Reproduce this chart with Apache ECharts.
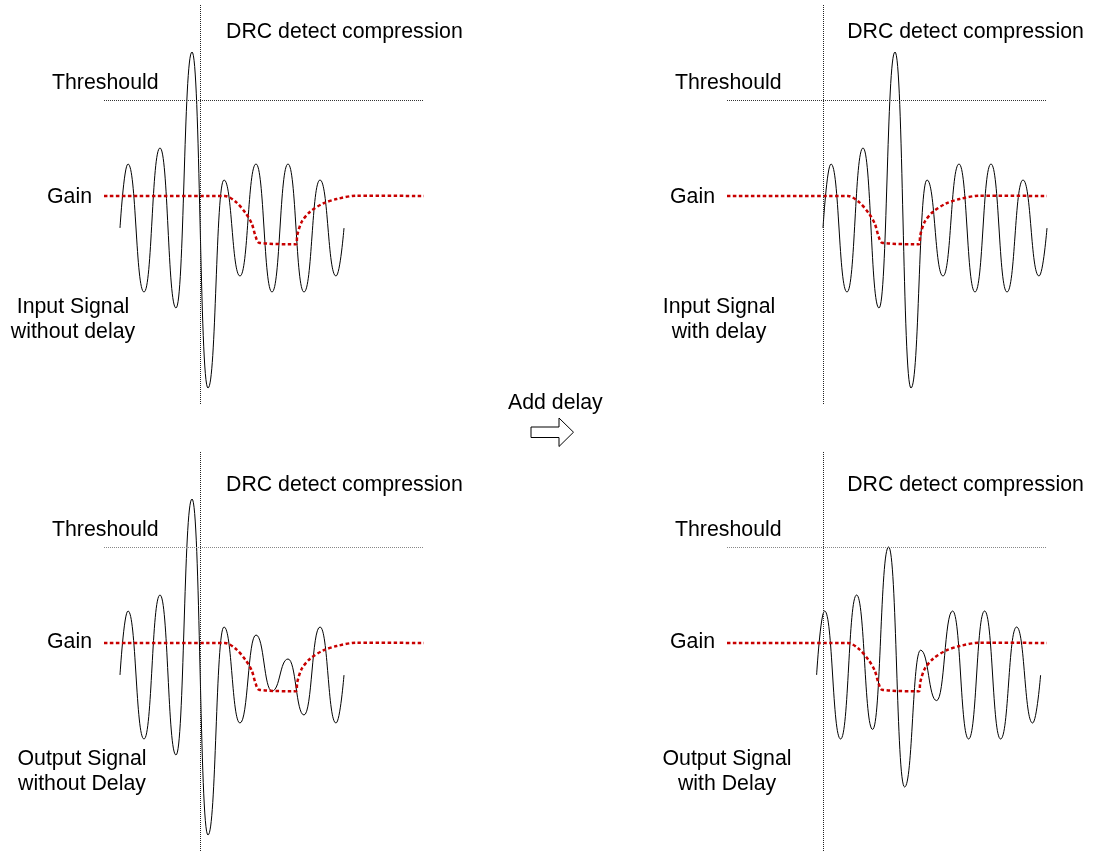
<!DOCTYPE html>
<html>
<head>
<meta charset="utf-8">
<script src="https://cdn.jsdelivr.net/npm/echarts@6/dist/echarts.min.js"></script>
<style>
  html, body { margin: 0; padding: 0; background: #fff; }
  #chart { width: 1093px; height: 851px; }
</style>
</head>
<body>
<div id="chart"></div>
<script>
// time axis: 1 unit = half a signal period, level axis: arbitrary amplitude units
const timeNoDelay = [1, 1.5, 2.5, 3.5, 4.5, 5.5, 6.5, 7.5, 8.5, 9.5, 10.5, 11.5, 12.5, 13.5, 14.5, 15];
const timeInDelay = [6, 6.5, 7.5, 8.5, 9.5, 10.5, 11.5, 12.5, 13.5, 14.5, 15.5, 16.5, 17.5, 18.5, 19.5, 20];
const timeOutDelay = [5.6, 6.1, 7.1, 8.1, 9.1, 10.1, 11.1, 12.1, 13.1, 14.1, 15.1, 16.1, 17.1, 18.1, 19.1, 19.6];

const inputLevels = [0, 4, -4, 5, -5, 11, -10, 3, -3, 4, -4, 4, -4, 3, -3, 0];
const outNoDelayLevels = [0, 4, -4, 5, -5, 11, -10, 3, -3, 2.5, -1, 1, -2.5, 3, -3, 0];
const outDelayLevels = [0, 4, -4, 5, -3.4, 8, -7, 1.55, -1.6, 4, -4, 4, -4, 3, -3, 0];

const gainTime = [0, 7.56, 8.23, 8.86, 9.23, 9.48, 9.69, 12.0, 12.08, 12.36, 12.88, 13.71, 14.54, 15.79, 20];
const gainLevels = [2, 2, 1.64, 0.92, 0.29, -0.54, -0.92, -1.02, -0.44, 0.39, 1.02, 1.54, 1.81, 2.02, 2];

const thresholdLevel = 8;
const detectTime = 6;

const FONT = '21.3px "Liberation Sans", Arial, sans-serif';

const panels = [
    { left: 104, top: 4, t: timeNoDelay, v: inputLevels, th: '#333', label: 'Input Signal\nwithout delay', labelX: 73 },
    { left: 727, top: 4, t: timeInDelay, v: inputLevels, th: '#333', label: 'Input Signal\nwith delay', labelX: 719 },
    { left: 104, top: 451, t: timeNoDelay, v: outNoDelayLevels, th: '#888', label: 'Output Signal\nwithout Delay', labelX: 82 },
    { left: 727, top: 451, t: timeOutDelay, v: outDelayLevels, th: '#888', label: 'Output Signal\nwith Delay', labelX: 727 }
]

const zip = (a, b) => a.map((x, i) => [x, b[i]])

const grid = [], xAxis = [], yAxis = [], series = [], graphic = []
panels.forEach((p, i) => {
    grid.push({ left: p.left, top: p.top, width: 320, height: 400 })
    xAxis.push({ type: 'value', gridIndex: i, min: 0, max: 20, show: false })
    yAxis.push({ type: 'value', gridIndex: i, min: -11, max: 14, show: false })
    series.push({
        type: 'line',
        xAxisIndex: i,
        yAxisIndex: i,
        data: zip(p.t, p.v),
        smooth: 0.5,
        smoothMonotone: 'x',
        symbol: 'none',
        lineStyle: { color: '#000', width: 1 },
        markLine: {
            silent: true,
            symbol: 'none',
            label: { show: false },
            data: [
                { xAxis: detectTime, lineStyle: { color: '#222', width: 1, type: [1, 1] } },
                { yAxis: thresholdLevel, lineStyle: { color: p.th, width: 1, type: [1, 1] } }
            ]
        },
        z: 2
    })
    series.push({
        type: 'line',
        xAxisIndex: i,
        yAxisIndex: i,
        data: zip(gainTime, gainLevels),
        smooth: 0.3,
        symbol: 'none',
        lineStyle: { color: '#c80000', width: 2.5, type: [3.5, 2.5] },
        z: 3
    })
    const dy = p.top - 4
    const dxL = p.left - 104
    graphic.push(
        { type: 'text', x: 226 + dxL * 0.997, y: 32 + (i > 1 ? 453 : 0), style: { text: 'DRC detect compression', font: FONT, fill: '#000', align: 'left', verticalAlign: 'middle' } },
        { type: 'text', x: 52 + dxL, y: 83.5 + dy, style: { text: 'Threshould', font: FONT, fill: '#000', align: 'left', verticalAlign: 'middle' } },
        { type: 'text', x: 47 + dxL, y: 197 + dy - (i > 1 ? 2 : 0), style: { text: 'Gain', font: FONT, fill: '#000', align: 'left', verticalAlign: 'middle' } },
        { type: 'text', x: p.labelX, y: (i > 1 ? 771.5 : 319.5), style: { text: p.label, font: FONT, lineHeight: 25, fill: '#000', align: 'center', verticalAlign: 'middle' } }
    )
})

graphic.push(
    { type: 'text', x: 508, y: 403.5, style: { text: 'Add delay', font: FONT, fill: '#000', align: 'left', verticalAlign: 'middle' } },
    {
        type: 'polygon',
        shape: { points: [[531, 427], [559, 427], [559, 418], [573.5, 432.2], [559, 446.5], [559, 437.5], [531, 437.5]] },
        style: { fill: '#fff', stroke: '#000', lineWidth: 1 }
    }
)

const chart = echarts.init(document.getElementById('chart'))
chart.setOption({
    animation: false,
    backgroundColor: '#fff',
    grid,
    xAxis,
    yAxis,
    series,
    graphic
})
</script>
</body>
</html>
